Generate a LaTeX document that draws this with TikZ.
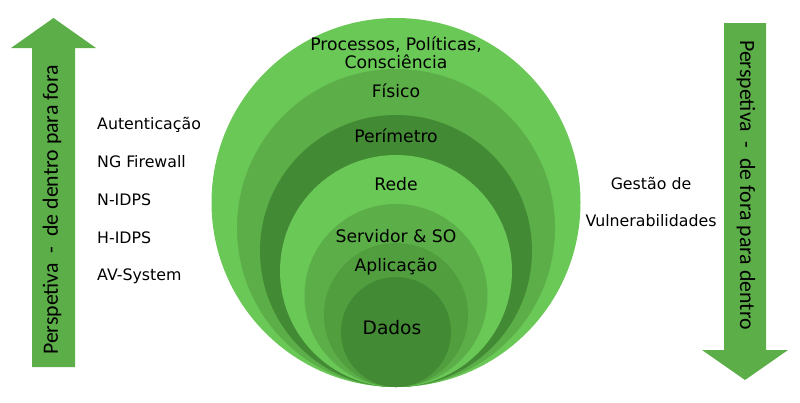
\documentclass[tikz,border=0pt]{standalone}
\usepackage{fontspec}
\setmainfont{DejaVu Sans}
\newfontfamily\arrowfont{Carlito}
\usepackage{tikz}
\usetikzlibrary{positioning, calc}

\definecolor{verdeClaro}{RGB}{106,200,86}
\definecolor{verdeMedio}{RGB}{92,174,72}
\definecolor{verdeApl}{RGB}{80,158,62}
\definecolor{verdeEscuro}{RGB}{66,138,52}
\definecolor{verdeSeta}{RGB}{92,174,72}

\begin{document}
\begin{tikzpicture}[
		x=1pt, y=-1pt,
		layer/.style={circle, inner sep=0pt, draw=none},
		layerText/.style={font=\fontsize{17.2}{19}\selectfont, align=center, inner sep=0pt},
		sideText/.style={font=\fontsize{15.8}{18}\selectfont, inner sep=0pt},
		arrowText/.style={font=\arrowfont\fontsize{21.8}{24}\selectfont, inner sep=0pt},
		seta/.style={fill=verdeSeta, draw=none}
		]
		\useasboundingbox (0,0) rectangle (800,402);

		% Camadas
		\node[layer, fill=verdeClaro, minimum size=369pt] (proc) at (396,202.5) {};
		\node[layer, fill=verdeMedio, minimum size=318pt] (fisico) at (396,228) {};
		\node[layer, fill=verdeEscuro, minimum size=272pt] (perim) at (396,251) {};
		\node[layer, fill=verdeClaro, minimum size=232pt] (rede) at (396,271) {};
		\node[layer, fill=verdeMedio, minimum size=183pt] (serv) at (396,295.5) {};
		\node[layer, fill=verdeApl, minimum size=144pt] (apl) at (396,315) {};
		\node[layer, fill=verdeEscuro, minimum size=110pt] (dados) at (396,332) {};

		% Textos das camadas
		\node[layerText] (procText) at (396,53) {Processos, Políticas,\\[-1pt]Consciência};
		\node[layerText] (fisicoText) at (396,91) {Físico};
		\node[layerText] (perimText) at (396,136) {Perímetro};
		\node[layerText] (redeText) at (396,184) {Rede};
		\node[layerText] (servText) at (396,236) {Servidor \& SO};
		\node[layerText] (aplText) at (396,267) {Aplicação};
		\node[layerText, font=\fontsize{18.6}{21}\selectfont] (dadosText) at (392,328) {Dados};

		% Controlos
		\node[sideText, anchor=west] (auth) at (97,125) {Autenticação};
		\node[sideText, anchor=west] (ngfw) at (97,162) {NG Firewall};
		\node[sideText, anchor=west] (nidps) at (97,200) {N-IDPS};
		\node[sideText, anchor=west] (hidps) at (97,238) {H-IDPS};
		\node[sideText, anchor=west] (av) at (97,276) {AV-System};
		\node[sideText] (gestao) at (651,183) {Gestão de};
		\node[sideText] (vuln) at (651,221) {Vulnerabilidades};

		% Setas
		\fill[seta] (32,367) -- (32,48) -- (11,48) -- (53.5,18) -- (96,48) -- (75,48) -- (75,367) -- cycle;
		\fill[seta] (724,23) -- (766,23) -- (766,350) -- (788,350) -- (745,380) -- (702,350) -- (724,350) -- cycle;
		\node[arrowText, rotate=90] (dentroFora) at (52,210) {Perspetiva \ - \ de dentro para fora};
		\node[arrowText, rotate=-90] (foraDentro) at (746,185) {Perspetiva \ - \ de fora para dentro};

	\end{tikzpicture}
\end{document}
